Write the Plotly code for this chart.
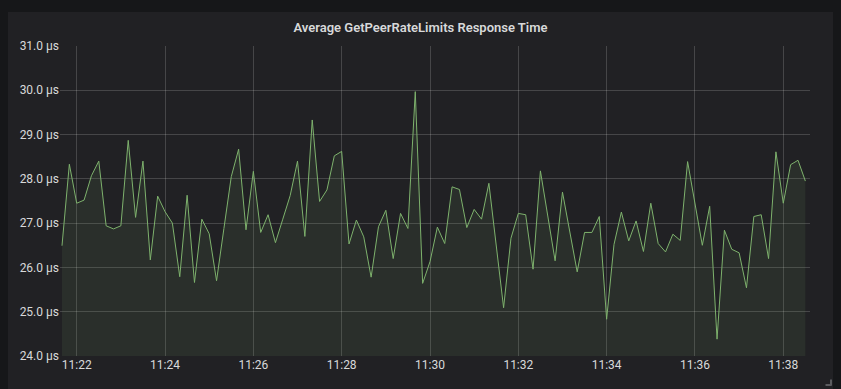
import pandas as pd
import plotly.graph_objects as go

# ---- data ----
start_time = "2020-01-01 11:21:40"
interval = "10s"
response_us = [
    26.49, 28.33, 27.45, 27.52, 28.07, 28.40, 26.94, 26.87, 26.94, 28.87,
    27.13, 28.40, 26.17, 27.61, 27.26, 27.00, 25.79, 27.63, 25.66, 27.09,
    26.76, 25.70, 26.88, 28.05, 28.67, 26.85, 28.17, 26.79, 27.19, 26.56,
    27.09, 27.62, 28.40, 26.70, 29.33, 27.49, 27.75, 28.52, 28.62, 26.53,
    27.07, 26.69, 25.78, 26.92, 27.29, 26.20, 27.22, 26.88, 29.97, 25.64,
    26.13, 26.91, 26.54, 27.82, 27.76, 26.90, 27.31, 27.09, 27.90, 26.47,
    25.09, 26.66, 27.22, 27.19, 25.96, 28.18, 27.17, 26.15, 27.70, 26.80,
    25.90, 26.79, 26.79, 27.15, 24.83, 26.52, 27.25, 26.60, 27.05, 26.36,
    27.45, 26.54, 26.35, 26.75, 26.61, 28.39, 27.48, 26.50, 27.38, 24.38,
    26.84, 26.41, 26.33, 25.54, 27.15, 27.19, 26.20, 28.61, 27.45, 28.32,
    28.42, 27.95,
]
times = pd.date_range(start=start_time, periods=len(response_us), freq=interval)
x_range = ["2020-01-01 11:21:37.3", "2020-01-01 11:38:36.3"]
y_range = [24, 31]
title_text = "Average GetPeerRateLimits Response Time"

PAGE_BG = "#161719"
PANEL_BG = "#212124"
GRID = "rgba(255,255,255,0.17)"
TEXT = "#d8d9da"
LINE = "#7eb26d"

fig = go.Figure()
fig.add_trace(go.Scatter(
    x=times, y=response_us, mode="lines",
    line=dict(color=LINE, width=1),
    fill="tozeroy", fillcolor="rgba(126,178,109,0.10)",
    hoverinfo="skip", showlegend=False,
))

# plot area: x 60..810, y 46..356
def px(xp):
    return (xp - 60) / 750.0

def py(yp):
    return (356 - yp) / 310.0

shapes = [
    dict(type="rect", xref="paper", yref="paper",
         x0=px(8), x1=px(833), y0=py(395), y1=py(12),
         fillcolor=PANEL_BG, line=dict(width=0), layer="below"),
    dict(type="line", xref="paper", yref="paper",
         x0=px(825.5), x1=px(831.5), y0=py(385), y1=py(385),
         line=dict(color="#5b5b5e", width=2)),
    dict(type="line", xref="paper", yref="paper",
         x0=px(831), x1=px(831), y0=py(379.5), y1=py(385.5),
         line=dict(color="#5b5b5e", width=2)),
]

fig.update_layout(
    width=841, height=389,
    margin=dict(l=60, r=31, t=46, b=33),
    paper_bgcolor=PAGE_BG,
    plot_bgcolor=PANEL_BG,
    shapes=shapes,
    title=dict(text=title_text, x=420.5 / 841, xref="container", xanchor="center",
               y=1 - 27 / 389, yref="container", yanchor="middle",
               font=dict(family="Roboto", size=13, color=TEXT, weight=600)),
    font=dict(family="Roboto", size=12, color=TEXT),
    xaxis=dict(
        type="date", range=x_range,
        dtick=120000, tickformat="%H:%M",
        tick0="2020-01-01 11:22:00",
        showgrid=True, gridcolor=GRID, gridwidth=1,
        zeroline=False, showline=False, ticks="",
        tickfont=dict(family="Roboto", size=12, color=TEXT),
        fixedrange=True,
    ),
    yaxis=dict(
        range=y_range, dtick=1, tickformat=".1f", ticksuffix=" µs",
        showgrid=True, gridcolor=GRID, gridwidth=1,
        zeroline=False, showline=False, ticks="",
        tickfont=dict(family="Roboto", size=12, color=TEXT),
        fixedrange=True,
    ),
)

fig.write_html(
    "out.html",
    config={"displayModeBar": False},
    post_script="document.body.style.margin='0';document.body.style.padding='0';"
                "document.body.style.background='%s';"
                "document.documentElement.style.background='%s';" % (PAGE_BG, PAGE_BG),
)
